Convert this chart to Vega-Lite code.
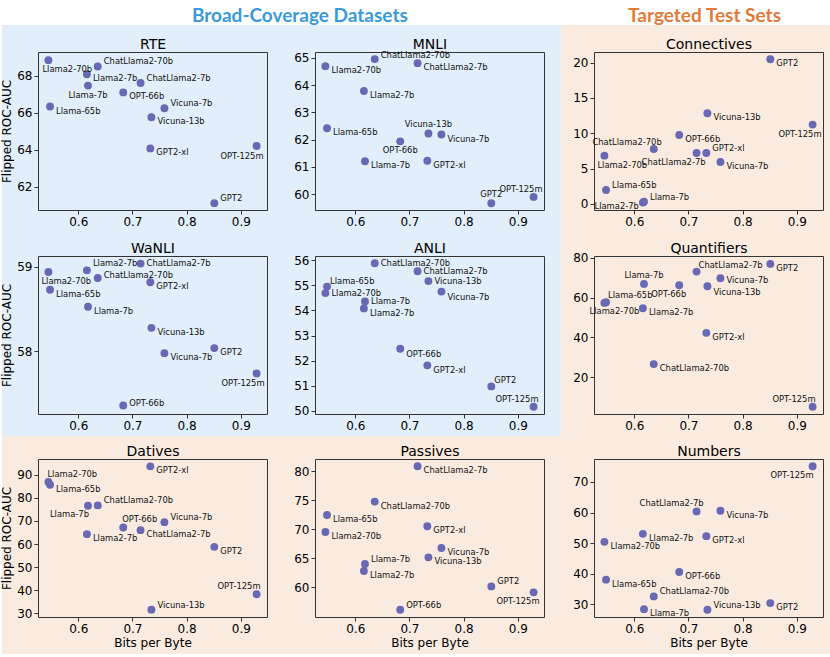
{
  "$schema": "https://vega.github.io/schema/vega-lite/v6.json",
  "padding": {"top": 7, "left": 0, "right": 0, "bottom": 0},
  "background": "white",
  "spacing": 0,
  "data": {"values": [
    {"panel": "RTE", "model": "Llama2-70b", "bpb": 0.545, "auc": 68.83},
    {"panel": "RTE", "model": "Llama-65b", "bpb": 0.548, "auc": 66.33},
    {"panel": "RTE", "model": "Llama2-7b", "bpb": 0.616, "auc": 68.07},
    {"panel": "RTE", "model": "Llama-7b", "bpb": 0.618, "auc": 67.46},
    {"panel": "RTE", "model": "ChatLlama2-70b", "bpb": 0.636, "auc": 68.49},
    {"panel": "RTE", "model": "OPT-66b", "bpb": 0.683, "auc": 67.09},
    {"panel": "RTE", "model": "ChatLlama2-7b", "bpb": 0.715, "auc": 67.6},
    {"panel": "RTE", "model": "GPT2-xl", "bpb": 0.733, "auc": 64.07},
    {"panel": "RTE", "model": "Vicuna-13b", "bpb": 0.735, "auc": 65.75},
    {"panel": "RTE", "model": "Vicuna-7b", "bpb": 0.759, "auc": 66.24},
    {"panel": "RTE", "model": "GPT2", "bpb": 0.851, "auc": 61.12},
    {"panel": "RTE", "model": "OPT-125m", "bpb": 0.929, "auc": 64.2},
    {"panel": "MNLI", "model": "Llama2-70b", "bpb": 0.545, "auc": 64.7},
    {"panel": "MNLI", "model": "Llama-65b", "bpb": 0.548, "auc": 62.42},
    {"panel": "MNLI", "model": "Llama2-7b", "bpb": 0.616, "auc": 63.79},
    {"panel": "MNLI", "model": "Llama-7b", "bpb": 0.618, "auc": 61.21},
    {"panel": "MNLI", "model": "ChatLlama2-70b", "bpb": 0.636, "auc": 64.96},
    {"panel": "MNLI", "model": "OPT-66b", "bpb": 0.683, "auc": 61.94},
    {"panel": "MNLI", "model": "ChatLlama2-7b", "bpb": 0.715, "auc": 64.81},
    {"panel": "MNLI", "model": "GPT2-xl", "bpb": 0.733, "auc": 61.23},
    {"panel": "MNLI", "model": "Vicuna-13b", "bpb": 0.735, "auc": 62.23},
    {"panel": "MNLI", "model": "Vicuna-7b", "bpb": 0.759, "auc": 62.19},
    {"panel": "MNLI", "model": "GPT2", "bpb": 0.851, "auc": 59.67},
    {"panel": "MNLI", "model": "OPT-125m", "bpb": 0.929, "auc": 59.9},
    {"panel": "Connectives", "model": "Llama2-70b", "bpb": 0.545, "auc": 6.84},
    {"panel": "Connectives", "model": "Llama-65b", "bpb": 0.548, "auc": 1.98},
    {"panel": "Connectives", "model": "Llama2-7b", "bpb": 0.616, "auc": 0.2},
    {"panel": "Connectives", "model": "Llama-7b", "bpb": 0.618, "auc": 0.33},
    {"panel": "Connectives", "model": "ChatLlama2-70b", "bpb": 0.636, "auc": 7.78},
    {"panel": "Connectives", "model": "OPT-66b", "bpb": 0.683, "auc": 9.76},
    {"panel": "Connectives", "model": "ChatLlama2-7b", "bpb": 0.715, "auc": 7.22},
    {"panel": "Connectives", "model": "GPT2-xl", "bpb": 0.733, "auc": 7.22},
    {"panel": "Connectives", "model": "Vicuna-13b", "bpb": 0.735, "auc": 12.83},
    {"panel": "Connectives", "model": "Vicuna-7b", "bpb": 0.759, "auc": 5.94},
    {"panel": "Connectives", "model": "GPT2", "bpb": 0.851, "auc": 20.47},
    {"panel": "Connectives", "model": "OPT-125m", "bpb": 0.929, "auc": 11.23},
    {"panel": "WaNLI", "model": "Llama2-70b", "bpb": 0.545, "auc": 58.94},
    {"panel": "WaNLI", "model": "Llama-65b", "bpb": 0.548, "auc": 58.73},
    {"panel": "WaNLI", "model": "Llama2-7b", "bpb": 0.616, "auc": 58.96},
    {"panel": "WaNLI", "model": "Llama-7b", "bpb": 0.618, "auc": 58.53},
    {"panel": "WaNLI", "model": "ChatLlama2-70b", "bpb": 0.636, "auc": 58.87},
    {"panel": "WaNLI", "model": "OPT-66b", "bpb": 0.683, "auc": 57.36},
    {"panel": "WaNLI", "model": "ChatLlama2-7b", "bpb": 0.715, "auc": 59.04},
    {"panel": "WaNLI", "model": "GPT2-xl", "bpb": 0.733, "auc": 58.82},
    {"panel": "WaNLI", "model": "Vicuna-13b", "bpb": 0.735, "auc": 58.28},
    {"panel": "WaNLI", "model": "Vicuna-7b", "bpb": 0.759, "auc": 57.98},
    {"panel": "WaNLI", "model": "GPT2", "bpb": 0.851, "auc": 58.04},
    {"panel": "WaNLI", "model": "OPT-125m", "bpb": 0.929, "auc": 57.74},
    {"panel": "ANLI", "model": "Llama2-70b", "bpb": 0.545, "auc": 54.69},
    {"panel": "ANLI", "model": "Llama-65b", "bpb": 0.548, "auc": 54.95},
    {"panel": "ANLI", "model": "Llama2-7b", "bpb": 0.616, "auc": 54.08},
    {"panel": "ANLI", "model": "Llama-7b", "bpb": 0.618, "auc": 54.36},
    {"panel": "ANLI", "model": "ChatLlama2-70b", "bpb": 0.636, "auc": 55.88},
    {"panel": "ANLI", "model": "OPT-66b", "bpb": 0.683, "auc": 52.47},
    {"panel": "ANLI", "model": "ChatLlama2-7b", "bpb": 0.715, "auc": 55.56},
    {"panel": "ANLI", "model": "GPT2-xl", "bpb": 0.733, "auc": 51.81},
    {"panel": "ANLI", "model": "Vicuna-13b", "bpb": 0.735, "auc": 55.17},
    {"panel": "ANLI", "model": "Vicuna-7b", "bpb": 0.759, "auc": 54.75},
    {"panel": "ANLI", "model": "GPT2", "bpb": 0.851, "auc": 50.97},
    {"panel": "ANLI", "model": "OPT-125m", "bpb": 0.929, "auc": 50.16},
    {"panel": "Quantifiers", "model": "Llama2-70b", "bpb": 0.545, "auc": 57.33},
    {"panel": "Quantifiers", "model": "Llama-65b", "bpb": 0.548, "auc": 57.67},
    {"panel": "Quantifiers", "model": "Llama2-7b", "bpb": 0.616, "auc": 54.67},
    {"panel": "Quantifiers", "model": "Llama-7b", "bpb": 0.618, "auc": 66.83},
    {"panel": "Quantifiers", "model": "ChatLlama2-70b", "bpb": 0.636, "auc": 26.67},
    {"panel": "Quantifiers", "model": "OPT-66b", "bpb": 0.683, "auc": 66.17},
    {"panel": "Quantifiers", "model": "ChatLlama2-7b", "bpb": 0.715, "auc": 73.0},
    {"panel": "Quantifiers", "model": "GPT2-xl", "bpb": 0.733, "auc": 42.33},
    {"panel": "Quantifiers", "model": "Vicuna-13b", "bpb": 0.735, "auc": 65.67},
    {"panel": "Quantifiers", "model": "Vicuna-7b", "bpb": 0.759, "auc": 69.67},
    {"panel": "Quantifiers", "model": "GPT2", "bpb": 0.851, "auc": 76.83},
    {"panel": "Quantifiers", "model": "OPT-125m", "bpb": 0.929, "auc": 5.33},
    {"panel": "Datives", "model": "Llama2-70b", "bpb": 0.545, "auc": 86.82},
    {"panel": "Datives", "model": "Llama-65b", "bpb": 0.548, "auc": 85.66},
    {"panel": "Datives", "model": "Llama2-7b", "bpb": 0.616, "auc": 64.27},
    {"panel": "Datives", "model": "Llama-7b", "bpb": 0.618, "auc": 76.55},
    {"panel": "Datives", "model": "ChatLlama2-70b", "bpb": 0.636, "auc": 76.7},
    {"panel": "Datives", "model": "OPT-66b", "bpb": 0.683, "auc": 67.16},
    {"panel": "Datives", "model": "ChatLlama2-7b", "bpb": 0.715, "auc": 66.0},
    {"panel": "Datives", "model": "GPT2-xl", "bpb": 0.733, "auc": 93.61},
    {"panel": "Datives", "model": "Vicuna-13b", "bpb": 0.735, "auc": 31.59},
    {"panel": "Datives", "model": "Vicuna-7b", "bpb": 0.759, "auc": 69.47},
    {"panel": "Datives", "model": "GPT2", "bpb": 0.851, "auc": 58.77},
    {"panel": "Datives", "model": "OPT-125m", "bpb": 0.929, "auc": 38.24},
    {"panel": "Passives", "model": "Llama2-70b", "bpb": 0.545, "auc": 69.54},
    {"panel": "Passives", "model": "Llama-65b", "bpb": 0.548, "auc": 72.47},
    {"panel": "Passives", "model": "Llama2-7b", "bpb": 0.616, "auc": 62.82},
    {"panel": "Passives", "model": "Llama-7b", "bpb": 0.618, "auc": 64.02},
    {"panel": "Passives", "model": "ChatLlama2-70b", "bpb": 0.636, "auc": 74.77},
    {"panel": "Passives", "model": "OPT-66b", "bpb": 0.683, "auc": 56.15},
    {"panel": "Passives", "model": "ChatLlama2-7b", "bpb": 0.715, "auc": 80.86},
    {"panel": "Passives", "model": "GPT2-xl", "bpb": 0.733, "auc": 70.52},
    {"panel": "Passives", "model": "Vicuna-13b", "bpb": 0.735, "auc": 65.17},
    {"panel": "Passives", "model": "Vicuna-7b", "bpb": 0.759, "auc": 66.78},
    {"panel": "Passives", "model": "GPT2", "bpb": 0.851, "auc": 60.17},
    {"panel": "Passives", "model": "OPT-125m", "bpb": 0.929, "auc": 59.14},
    {"panel": "Numbers", "model": "Llama2-70b", "bpb": 0.545, "auc": 50.44},
    {"panel": "Numbers", "model": "Llama-65b", "bpb": 0.548, "auc": 38.09},
    {"panel": "Numbers", "model": "Llama2-7b", "bpb": 0.616, "auc": 53.06},
    {"panel": "Numbers", "model": "Llama-7b", "bpb": 0.618, "auc": 28.47},
    {"panel": "Numbers", "model": "ChatLlama2-70b", "bpb": 0.636, "auc": 32.62},
    {"panel": "Numbers", "model": "OPT-66b", "bpb": 0.683, "auc": 40.6},
    {"panel": "Numbers", "model": "ChatLlama2-7b", "bpb": 0.715, "auc": 60.38},
    {"panel": "Numbers", "model": "GPT2-xl", "bpb": 0.733, "auc": 52.3},
    {"panel": "Numbers", "model": "Vicuna-13b", "bpb": 0.735, "auc": 28.25},
    {"panel": "Numbers", "model": "Vicuna-7b", "bpb": 0.759, "auc": 60.6},
    {"panel": "Numbers", "model": "GPT2", "bpb": 0.851, "auc": 30.44},
    {"panel": "Numbers", "model": "OPT-125m", "bpb": 0.929, "auc": 75.14}
  ]},
  "hconcat": [
    {
      "title": {"text": "Broad-Coverage Datasets", "font": "Lato", "fontSize": 19, "fontWeight": "bold", "color": "#3a9ad9", "anchor": "middle", "dx": 19, "dy": 7, "offset": 6},
      "spacing": 0,
      "vconcat": [
        {"spacing": 0, "hconcat": [
          {
            "width": 288, "height": 207,
            "view": {"fill": "#e2eef9", "stroke": null},
            "transform": [{"filter": {"field": "panel", "equal": "RTE"}}],
            "encoding": {
              "x": {"field": "bpb", "type": "quantitative", "scale": {"domain": [0.5258, 0.9482], "range": [36, 265], "nice": false, "zero": false}, "axis": null},
              "y": {"field": "auc", "type": "quantitative", "scale": {"domain": [60.75, 69.27], "range": [185, 27], "nice": false, "zero": false}, "axis": null}
            },
            "layer": [
              {"mark": "point", "encoding": {
                "x": {"field": "bpb", "type": "quantitative", "scale": {"domain": [0.5258, 0.9482], "range": [36, 265], "nice": false, "zero": false}, "axis": {"orient": "bottom", "offset": -22, "values": [0.6, 0.7, 0.8, 0.9], "format": ".1f", "title": null}},
                "y": {"field": "auc", "type": "quantitative", "scale": {"domain": [60.75, 69.27], "range": [185, 27], "nice": false, "zero": false}, "axis": {"orient": "left", "offset": -36, "values": [62, 64, 66, 68], "format": "d", "title": "Flipped ROC-AUC"}}
              }},
              {"mark": {"type": "text", "align": "left", "dx": 6, "dy": 4},
               "transform": [{"filter": {"field": "model", "oneOf": ["Llama2-7b", "OPT-66b", "Llama-65b", "Vicuna-13b", "GPT2-xl"]}}],
               "encoding": {
                "text": {"field": "model"},
                "x": {"field": "bpb", "type": "quantitative", "scale": {"domain": [0.5258, 0.9482], "range": [36, 265], "nice": false, "zero": false}, "axis": {"orient": "top", "offset": -27, "title": "RTE"}},
                "y": {"field": "auc", "type": "quantitative", "scale": {"domain": [60.75, 69.27], "range": [185, 27], "nice": false, "zero": false}, "axis": {"orient": "right", "offset": -23}}
              }},
              {"mark": {"type": "text", "align": "left", "dx": 6, "dy": -5}, "transform": [{"filter": {"field": "model", "oneOf": ["ChatLlama2-70b", "ChatLlama2-7b", "Vicuna-7b", "GPT2"]}}], "encoding": {"text": {"field": "model"}}},
              {"mark": {"type": "text", "align": "left", "dx": -6, "dy": 9}, "transform": [{"filter": {"field": "model", "oneOf": ["Llama2-70b"]}}], "encoding": {"text": {"field": "model"}}},
              {"mark": {"type": "text", "align": "center", "dy": 9}, "transform": [{"filter": {"field": "model", "oneOf": ["Llama-7b"]}}], "encoding": {"text": {"field": "model"}}},
              {"mark": {"type": "text", "align": "right", "dx": 7, "dy": 10}, "transform": [{"filter": {"field": "model", "oneOf": ["OPT-125m"]}}], "encoding": {"text": {"field": "model"}}}
            ],
            "resolve": {"axis": {"x": "independent", "y": "independent"}}
          },
          {
            "width": 271, "height": 207,
            "view": {"fill": "#e2eef9", "stroke": null},
            "transform": [{"filter": {"field": "panel", "equal": "MNLI"}}],
            "encoding": {
              "x": {"field": "bpb", "type": "quantitative", "scale": {"domain": [0.5258, 0.9482], "range": [25, 254], "nice": false, "zero": false}, "axis": null},
              "y": {"field": "auc", "type": "quantitative", "scale": {"domain": [59.42, 65.22], "range": [185, 27], "nice": false, "zero": false}, "axis": null}
            },
            "layer": [
              {"mark": "point", "encoding": {
                "x": {"field": "bpb", "type": "quantitative", "scale": {"domain": [0.5258, 0.9482], "range": [25, 254], "nice": false, "zero": false}, "axis": {"orient": "bottom", "offset": -22, "values": [0.6, 0.7, 0.8, 0.9], "format": ".1f", "title": null}},
                "y": {"field": "auc", "type": "quantitative", "scale": {"domain": [59.42, 65.22], "range": [185, 27], "nice": false, "zero": false}, "axis": {"orient": "left", "offset": -25, "values": [60, 61, 62, 63, 64, 65], "format": "d", "title": null}}
              }},
              {"mark": {"type": "text", "align": "left", "dx": 6, "dy": 4},
               "transform": [{"filter": {"field": "model", "oneOf": ["ChatLlama2-7b", "Llama2-70b", "Llama2-7b", "Llama-65b", "Vicuna-7b", "Llama-7b", "GPT2-xl"]}}],
               "encoding": {
                "text": {"field": "model"},
                "x": {"field": "bpb", "type": "quantitative", "scale": {"domain": [0.5258, 0.9482], "range": [25, 254], "nice": false, "zero": false}, "axis": {"orient": "top", "offset": -27, "title": "MNLI"}},
                "y": {"field": "auc", "type": "quantitative", "scale": {"domain": [59.42, 65.22], "range": [185, 27], "nice": false, "zero": false}, "axis": {"orient": "right", "offset": -17}}
              }},
              {"mark": {"type": "text", "align": "left", "dx": 6, "dy": -4}, "transform": [{"filter": {"field": "model", "oneOf": ["ChatLlama2-70b"]}}], "encoding": {"text": {"field": "model"}}},
              {"mark": {"type": "text", "align": "center", "dy": -9}, "transform": [{"filter": {"field": "model", "oneOf": ["Vicuna-13b", "GPT2"]}}], "encoding": {"text": {"field": "model"}}},
              {"mark": {"type": "text", "align": "center", "dy": 9}, "transform": [{"filter": {"field": "model", "oneOf": ["OPT-66b"]}}], "encoding": {"text": {"field": "model"}}},
              {"mark": {"type": "text", "align": "right", "dx": 9, "dy": -8}, "transform": [{"filter": {"field": "model", "oneOf": ["OPT-125m"]}}], "encoding": {"text": {"field": "model"}}}
            ],
            "resolve": {"axis": {"x": "independent", "y": "independent"}}
          }
        ]},
        {"spacing": 0, "hconcat": [
          {
            "width": 288, "height": 204,
            "view": {"fill": "#e2eef9", "stroke": null},
            "transform": [{"filter": {"field": "panel", "equal": "WaNLI"}}],
            "encoding": {
              "x": {"field": "bpb", "type": "quantitative", "scale": {"domain": [0.5258, 0.9482], "range": [36, 265], "nice": false, "zero": false}, "axis": null},
              "y": {"field": "auc", "type": "quantitative", "scale": {"domain": [57.26, 59.13], "range": [182, 24], "nice": false, "zero": false}, "axis": null}
            },
            "layer": [
              {"mark": "point", "encoding": {
                "x": {"field": "bpb", "type": "quantitative", "scale": {"domain": [0.5258, 0.9482], "range": [36, 265], "nice": false, "zero": false}, "axis": {"orient": "bottom", "offset": -22, "values": [0.6, 0.7, 0.8, 0.9], "format": ".1f", "title": null}},
                "y": {"field": "auc", "type": "quantitative", "scale": {"domain": [57.26, 59.13], "range": [182, 24], "nice": false, "zero": false}, "axis": {"orient": "left", "offset": -36, "values": [58, 59], "format": "d", "title": "Flipped ROC-AUC"}}
              }},
              {"mark": {"type": "text", "align": "left", "dx": 6, "dy": 4},
               "transform": [{"filter": {"field": "model", "oneOf": ["GPT2-xl", "Llama-65b", "Llama-7b", "Vicuna-13b", "GPT2", "Vicuna-7b"]}}],
               "encoding": {
                "text": {"field": "model"},
                "x": {"field": "bpb", "type": "quantitative", "scale": {"domain": [0.5258, 0.9482], "range": [36, 265], "nice": false, "zero": false}, "axis": {"orient": "top", "offset": -24, "title": "WaNLI"}},
                "y": {"field": "auc", "type": "quantitative", "scale": {"domain": [57.26, 59.13], "range": [182, 24], "nice": false, "zero": false}, "axis": {"orient": "right", "offset": -23}}
              }},
              {"mark": {"type": "text", "align": "left", "dx": 6, "dy": -1}, "transform": [{"filter": {"field": "model", "oneOf": ["ChatLlama2-7b"]}}], "encoding": {"text": {"field": "model"}}},
              {"mark": {"type": "text", "align": "left", "dx": 6, "dy": -7}, "transform": [{"filter": {"field": "model", "oneOf": ["Llama2-7b"]}}], "encoding": {"text": {"field": "model"}}},
              {"mark": {"type": "text", "align": "left", "dx": 6, "dy": -3}, "transform": [{"filter": {"field": "model", "oneOf": ["ChatLlama2-70b", "OPT-66b"]}}], "encoding": {"text": {"field": "model"}}},
              {"mark": {"type": "text", "align": "left", "dx": -7, "dy": 9}, "transform": [{"filter": {"field": "model", "oneOf": ["Llama2-70b"]}}], "encoding": {"text": {"field": "model"}}},
              {"mark": {"type": "text", "align": "right", "dx": 8, "dy": 10}, "transform": [{"filter": {"field": "model", "oneOf": ["OPT-125m"]}}], "encoding": {"text": {"field": "model"}}}
            ],
            "resolve": {"axis": {"x": "independent", "y": "independent"}}
          },
          {
            "width": 271, "height": 204,
            "view": {"fill": "#e2eef9", "stroke": null},
            "transform": [{"filter": {"field": "panel", "equal": "ANLI"}}],
            "encoding": {
              "x": {"field": "bpb", "type": "quantitative", "scale": {"domain": [0.5258, 0.9482], "range": [25, 254], "nice": false, "zero": false}, "axis": null},
              "y": {"field": "auc", "type": "quantitative", "scale": {"domain": [49.87, 56.17], "range": [182, 24], "nice": false, "zero": false}, "axis": null}
            },
            "layer": [
              {"mark": "point", "encoding": {
                "x": {"field": "bpb", "type": "quantitative", "scale": {"domain": [0.5258, 0.9482], "range": [25, 254], "nice": false, "zero": false}, "axis": {"orient": "bottom", "offset": -22, "values": [0.6, 0.7, 0.8, 0.9], "format": ".1f", "title": null}},
                "y": {"field": "auc", "type": "quantitative", "scale": {"domain": [49.87, 56.17], "range": [182, 24], "nice": false, "zero": false}, "axis": {"orient": "left", "offset": -25, "values": [50, 51, 52, 53, 54, 55, 56], "format": "d", "title": null}}
              }},
              {"mark": {"type": "text", "align": "left", "dx": 6, "dy": 0},
               "transform": [{"filter": {"field": "model", "oneOf": ["ChatLlama2-70b", "ChatLlama2-7b", "Vicuna-13b", "Llama2-70b", "Llama-7b"]}}],
               "encoding": {
                "text": {"field": "model"},
                "x": {"field": "bpb", "type": "quantitative", "scale": {"domain": [0.5258, 0.9482], "range": [25, 254], "nice": false, "zero": false}, "axis": {"orient": "top", "offset": -24, "title": "ANLI"}},
                "y": {"field": "auc", "type": "quantitative", "scale": {"domain": [49.87, 56.17], "range": [182, 24], "nice": false, "zero": false}, "axis": {"orient": "right", "offset": -17}}
              }},
              {"mark": {"type": "text", "align": "left", "dx": 6, "dy": 5}, "transform": [{"filter": {"field": "model", "oneOf": ["Vicuna-7b", "Llama2-7b", "OPT-66b", "GPT2-xl"]}}], "encoding": {"text": {"field": "model"}}},
              {"mark": {"type": "text", "align": "left", "dx": 3, "dy": -6}, "transform": [{"filter": {"field": "model", "oneOf": ["Llama-65b", "GPT2"]}}], "encoding": {"text": {"field": "model"}}},
              {"mark": {"type": "text", "align": "right", "dx": 5, "dy": -8}, "transform": [{"filter": {"field": "model", "oneOf": ["OPT-125m"]}}], "encoding": {"text": {"field": "model"}}}
            ],
            "resolve": {"axis": {"x": "independent", "y": "independent"}}
          }
        ]},
        {"spacing": 0, "hconcat": [
          {
            "width": 288, "height": 218,
            "view": {"fill": "#f9ebe0", "stroke": null},
            "transform": [{"filter": {"field": "panel", "equal": "Datives"}}],
            "encoding": {
              "x": {"field": "bpb", "type": "quantitative", "scale": {"domain": [0.5258, 0.9482], "range": [36, 265], "nice": false, "zero": false}, "axis": null},
              "y": {"field": "auc", "type": "quantitative", "scale": {"domain": [28.4, 96.8], "range": [181, 23], "nice": false, "zero": false}, "axis": null}
            },
            "layer": [
              {"mark": "point", "encoding": {
                "x": {"field": "bpb", "type": "quantitative", "scale": {"domain": [0.5258, 0.9482], "range": [36, 265], "nice": false, "zero": false}, "axis": {"orient": "bottom", "offset": -37, "values": [0.6, 0.7, 0.8, 0.9], "format": ".1f", "title": "Bits per Byte"}},
                "y": {"field": "auc", "type": "quantitative", "scale": {"domain": [28.4, 96.8], "range": [181, 23], "nice": false, "zero": false}, "axis": {"orient": "left", "offset": -36, "values": [30, 40, 50, 60, 70, 80, 90], "format": "d", "title": "Flipped ROC-AUC"}}
              }},
              {"mark": {"type": "text", "align": "left", "dx": 6, "dy": 4},
               "transform": [{"filter": {"field": "model", "oneOf": ["GPT2-xl", "Llama-65b", "ChatLlama2-7b", "Llama2-7b", "GPT2"]}}],
               "encoding": {
                "text": {"field": "model"},
                "x": {"field": "bpb", "type": "quantitative", "scale": {"domain": [0.5258, 0.9482], "range": [36, 265], "nice": false, "zero": false}, "axis": {"orient": "top", "offset": -23, "title": "Datives"}},
                "y": {"field": "auc", "type": "quantitative", "scale": {"domain": [28.4, 96.8], "range": [181, 23], "nice": false, "zero": false}, "axis": {"orient": "right", "offset": -23}}
              }},
              {"mark": {"type": "text", "align": "left", "dx": 6, "dy": -5}, "transform": [{"filter": {"field": "model", "oneOf": ["ChatLlama2-70b", "Vicuna-7b", "Vicuna-13b"]}}], "encoding": {"text": {"field": "model"}}},
              {"mark": {"type": "text", "align": "left", "dx": -1, "dy": -8}, "transform": [{"filter": {"field": "model", "oneOf": ["Llama2-70b", "OPT-66b"]}}], "encoding": {"text": {"field": "model"}}},
              {"mark": {"type": "text", "align": "right", "dx": 1, "dy": 8}, "transform": [{"filter": {"field": "model", "oneOf": ["Llama-7b"]}}], "encoding": {"text": {"field": "model"}}},
              {"mark": {"type": "text", "align": "right", "dx": 4, "dy": -8}, "transform": [{"filter": {"field": "model", "oneOf": ["OPT-125m"]}}], "encoding": {"text": {"field": "model"}}}
            ],
            "resolve": {"axis": {"x": "independent", "y": "independent"}}
          },
          {
            "width": 271, "height": 218,
            "view": {"fill": "#f9ebe0", "stroke": null},
            "transform": [{"filter": {"field": "panel", "equal": "Passives"}}],
            "encoding": {
              "x": {"field": "bpb", "type": "quantitative", "scale": {"domain": [0.5258, 0.9482], "range": [25, 254], "nice": false, "zero": false}, "axis": null},
              "y": {"field": "auc", "type": "quantitative", "scale": {"domain": [54.9, 82.1], "range": [181, 23], "nice": false, "zero": false}, "axis": null}
            },
            "layer": [
              {"mark": "point", "encoding": {
                "x": {"field": "bpb", "type": "quantitative", "scale": {"domain": [0.5258, 0.9482], "range": [25, 254], "nice": false, "zero": false}, "axis": {"orient": "bottom", "offset": -37, "values": [0.6, 0.7, 0.8, 0.9], "format": ".1f", "title": "Bits per Byte"}},
                "y": {"field": "auc", "type": "quantitative", "scale": {"domain": [54.9, 82.1], "range": [181, 23], "nice": false, "zero": false}, "axis": {"orient": "left", "offset": -25, "values": [60, 65, 70, 75, 80], "format": "d", "title": null}}
              }},
              {"mark": {"type": "text", "align": "left", "dx": 6, "dy": 4},
               "transform": [{"filter": {"field": "model", "oneOf": ["ChatLlama2-7b", "ChatLlama2-70b", "Llama-65b", "GPT2-xl", "Llama2-70b", "Vicuna-7b", "Vicuna-13b", "Llama2-7b"]}}],
               "encoding": {
                "text": {"field": "model"},
                "x": {"field": "bpb", "type": "quantitative", "scale": {"domain": [0.5258, 0.9482], "range": [25, 254], "nice": false, "zero": false}, "axis": {"orient": "top", "offset": -23, "title": "Passives"}},
                "y": {"field": "auc", "type": "quantitative", "scale": {"domain": [54.9, 82.1], "range": [181, 23], "nice": false, "zero": false}, "axis": {"orient": "right", "offset": -17}}
              }},
              {"mark": {"type": "text", "align": "left", "dx": 6, "dy": -5}, "transform": [{"filter": {"field": "model", "oneOf": ["Llama-7b", "GPT2", "OPT-66b"]}}], "encoding": {"text": {"field": "model"}}},
              {"mark": {"type": "text", "align": "right", "dx": 6, "dy": 9}, "transform": [{"filter": {"field": "model", "oneOf": ["OPT-125m"]}}], "encoding": {"text": {"field": "model"}}}
            ],
            "resolve": {"axis": {"x": "independent", "y": "independent"}}
          }
        ]}
      ]
    },
    {
      "title": {"text": "Targeted Test Sets", "font": "Lato", "fontSize": 19, "fontWeight": "bold", "color": "#e07b39", "anchor": "middle", "dx": 8, "dy": 7, "offset": 6},
      "spacing": 0,
      "vconcat": [
        {
          "width": 271, "height": 207,
          "view": {"fill": "#f9ebe0", "stroke": null},
          "transform": [{"filter": {"field": "panel", "equal": "Connectives"}}],
          "encoding": {
            "x": {"field": "bpb", "type": "quantitative", "scale": {"domain": [0.5258, 0.9482], "range": [33, 262], "nice": false, "zero": false}, "axis": null},
            "y": {"field": "auc", "type": "quantitative", "scale": {"domain": [-0.85, 21.5], "range": [185, 27], "nice": false, "zero": false}, "axis": null}
          },
          "layer": [
            {"mark": "point", "encoding": {
              "x": {"field": "bpb", "type": "quantitative", "scale": {"domain": [0.5258, 0.9482], "range": [33, 262], "nice": false, "zero": false}, "axis": {"orient": "bottom", "offset": -22, "values": [0.6, 0.7, 0.8, 0.9], "format": ".1f", "title": null}},
              "y": {"field": "auc", "type": "quantitative", "scale": {"domain": [-0.85, 21.5], "range": [185, 27], "nice": false, "zero": false}, "axis": {"orient": "left", "offset": -33, "values": [0, 5, 10, 15, 20], "format": "d", "title": null}}
            }},
            {"mark": {"type": "text", "align": "left", "dx": 6, "dy": 4},
             "transform": [{"filter": {"field": "model", "oneOf": ["GPT2", "Vicuna-13b", "OPT-66b", "Vicuna-7b"]}}],
             "encoding": {
              "text": {"field": "model"},
              "x": {"field": "bpb", "type": "quantitative", "scale": {"domain": [0.5258, 0.9482], "range": [33, 262], "nice": false, "zero": false}, "axis": {"orient": "top", "offset": -27, "title": "Connectives"}},
              "y": {"field": "auc", "type": "quantitative", "scale": {"domain": [-0.85, 21.5], "range": [185, 27], "nice": false, "zero": false}, "axis": {"orient": "right", "offset": -9}}
            }},
            {"mark": {"type": "text", "align": "left", "dx": 6, "dy": -5}, "transform": [{"filter": {"field": "model", "oneOf": ["GPT2-xl", "Llama-65b", "Llama-7b"]}}], "encoding": {"text": {"field": "model"}}},
            {"mark": {"type": "text", "align": "right", "dx": 9, "dy": 9}, "transform": [{"filter": {"field": "model", "oneOf": ["OPT-125m", "ChatLlama2-7b"]}}], "encoding": {"text": {"field": "model"}}},
            {"mark": {"type": "text", "align": "right", "dx": 8, "dy": -7}, "transform": [{"filter": {"field": "model", "oneOf": ["ChatLlama2-70b"]}}], "encoding": {"text": {"field": "model"}}},
            {"mark": {"type": "text", "align": "left", "dx": -7, "dy": 9}, "transform": [{"filter": {"field": "model", "oneOf": ["Llama2-70b"]}}], "encoding": {"text": {"field": "model"}}},
            {"mark": {"type": "text", "align": "right", "dx": -4, "dy": 3}, "transform": [{"filter": {"field": "model", "oneOf": ["Llama2-7b"]}}], "encoding": {"text": {"field": "model"}}}
          ],
          "resolve": {"axis": {"x": "independent", "y": "independent"}}
        },
        {
          "width": 271, "height": 204,
          "view": {"fill": "#f9ebe0", "stroke": null},
          "transform": [{"filter": {"field": "panel", "equal": "Quantifiers"}}],
          "encoding": {
            "x": {"field": "bpb", "type": "quantitative", "scale": {"domain": [0.5258, 0.9482], "range": [33, 262], "nice": false, "zero": false}, "axis": null},
            "y": {"field": "auc", "type": "quantitative", "scale": {"domain": [1.7, 80.8], "range": [182, 24], "nice": false, "zero": false}, "axis": null}
          },
          "layer": [
            {"mark": "point", "encoding": {
              "x": {"field": "bpb", "type": "quantitative", "scale": {"domain": [0.5258, 0.9482], "range": [33, 262], "nice": false, "zero": false}, "axis": {"orient": "bottom", "offset": -22, "values": [0.6, 0.7, 0.8, 0.9], "format": ".1f", "title": null}},
              "y": {"field": "auc", "type": "quantitative", "scale": {"domain": [1.7, 80.8], "range": [182, 24], "nice": false, "zero": false}, "axis": {"orient": "left", "offset": -33, "values": [20, 40, 60, 80], "format": "d", "title": null}}
            }},
            {"mark": {"type": "text", "align": "left", "dx": 6, "dy": 4},
             "transform": [{"filter": {"field": "model", "oneOf": ["GPT2", "Llama2-7b", "GPT2-xl", "ChatLlama2-70b"]}}],
             "encoding": {
              "text": {"field": "model"},
              "x": {"field": "bpb", "type": "quantitative", "scale": {"domain": [0.5258, 0.9482], "range": [33, 262], "nice": false, "zero": false}, "axis": {"orient": "top", "offset": -24, "title": "Quantifiers"}},
              "y": {"field": "auc", "type": "quantitative", "scale": {"domain": [1.7, 80.8], "range": [182, 24], "nice": false, "zero": false}, "axis": {"orient": "right", "offset": -9}}
            }},
            {"mark": {"type": "text", "align": "left", "dx": 6, "dy": 2}, "transform": [{"filter": {"field": "model", "oneOf": ["Vicuna-7b"]}}], "encoding": {"text": {"field": "model"}}},
            {"mark": {"type": "text", "align": "left", "dx": 6, "dy": 6}, "transform": [{"filter": {"field": "model", "oneOf": ["Vicuna-13b"]}}], "encoding": {"text": {"field": "model"}}},
            {"mark": {"type": "text", "align": "left", "dx": 2, "dy": -7}, "transform": [{"filter": {"field": "model", "oneOf": ["ChatLlama2-7b", "Llama-65b"]}}], "encoding": {"text": {"field": "model"}}},
            {"mark": {"type": "text", "align": "center", "dy": -9}, "transform": [{"filter": {"field": "model", "oneOf": ["Llama-7b"]}}], "encoding": {"text": {"field": "model"}}},
            {"mark": {"type": "text", "align": "right", "dx": 7, "dy": 9}, "transform": [{"filter": {"field": "model", "oneOf": ["OPT-66b"]}}], "encoding": {"text": {"field": "model"}}},
            {"mark": {"type": "text", "align": "center", "dx": 10, "dy": 8}, "transform": [{"filter": {"field": "model", "oneOf": ["Llama2-70b"]}}], "encoding": {"text": {"field": "model"}}},
            {"mark": {"type": "text", "align": "right", "dx": 3, "dy": -8}, "transform": [{"filter": {"field": "model", "oneOf": ["OPT-125m"]}}], "encoding": {"text": {"field": "model"}}}
          ],
          "resolve": {"axis": {"x": "independent", "y": "independent"}}
        },
        {
          "width": 271, "height": 218,
          "view": {"fill": "#f9ebe0", "stroke": null},
          "transform": [{"filter": {"field": "panel", "equal": "Numbers"}}],
          "encoding": {
            "x": {"field": "bpb", "type": "quantitative", "scale": {"domain": [0.5258, 0.9482], "range": [33, 262], "nice": false, "zero": false}, "axis": null},
            "y": {"field": "auc", "type": "quantitative", "scale": {"domain": [25.9, 77.5], "range": [181, 23], "nice": false, "zero": false}, "axis": null}
          },
          "layer": [
            {"mark": "point", "encoding": {
              "x": {"field": "bpb", "type": "quantitative", "scale": {"domain": [0.5258, 0.9482], "range": [33, 262], "nice": false, "zero": false}, "axis": {"orient": "bottom", "offset": -37, "values": [0.6, 0.7, 0.8, 0.9], "format": ".1f", "title": "Bits per Byte"}},
              "y": {"field": "auc", "type": "quantitative", "scale": {"domain": [25.9, 77.5], "range": [181, 23], "nice": false, "zero": false}, "axis": {"orient": "left", "offset": -33, "values": [30, 40, 50, 60, 70], "format": "d", "title": null}}
            }},
            {"mark": {"type": "text", "align": "left", "dx": 6, "dy": 4},
             "transform": [{"filter": {"field": "model", "oneOf": ["Vicuna-7b", "Llama2-7b", "GPT2-xl", "Llama2-70b", "OPT-66b", "Llama-65b", "GPT2", "Llama-7b"]}}],
             "encoding": {
              "text": {"field": "model"},
              "x": {"field": "bpb", "type": "quantitative", "scale": {"domain": [0.5258, 0.9482], "range": [33, 262], "nice": false, "zero": false}, "axis": {"orient": "top", "offset": -23, "title": "Numbers"}},
              "y": {"field": "auc", "type": "quantitative", "scale": {"domain": [25.9, 77.5], "range": [181, 23], "nice": false, "zero": false}, "axis": {"orient": "right", "offset": -9}}
            }},
            {"mark": {"type": "text", "align": "left", "dx": 6, "dy": -5}, "transform": [{"filter": {"field": "model", "oneOf": ["ChatLlama2-70b", "Vicuna-13b"]}}], "encoding": {"text": {"field": "model"}}},
            {"mark": {"type": "text", "align": "right", "dx": 7, "dy": -8}, "transform": [{"filter": {"field": "model", "oneOf": ["ChatLlama2-7b"]}}], "encoding": {"text": {"field": "model"}}},
            {"mark": {"type": "text", "align": "right", "dx": 1, "dy": 9}, "transform": [{"filter": {"field": "model", "oneOf": ["OPT-125m"]}}], "encoding": {"text": {"field": "model"}}}
          ],
          "resolve": {"axis": {"x": "independent", "y": "independent"}}
        }
      ]
    }
  ],
  "config": {
    "concat": {"spacing": 0},
    "view": {"stroke": null},
    "point": {"filled": true, "size": 62, "color": "#6868b4", "opacity": 1},
    "text": {"font": "DejaVu Sans", "fontSize": 8.4, "color": "#111111", "baseline": "middle"},
    "axis": {
      "grid": false,
      "labelFont": "DejaVu Sans", "labelFontSize": 12, "labelColor": "#000000", "labelPadding": 2,
      "tickColor": "#333333", "tickSize": 4, "tickWidth": 1,
      "domainColor": "#333333", "domainWidth": 1,
      "titleFont": "DejaVu Sans", "titleFontSize": 12, "titleFontWeight": "normal", "titleColor": "#000000", "titlePadding": 3
    },
    "axisTop": {"labels": false, "ticks": false, "titleFontSize": 14, "titlePadding": 1},
    "axisRight": {"labels": false, "ticks": false, "title": null}
  }
}
